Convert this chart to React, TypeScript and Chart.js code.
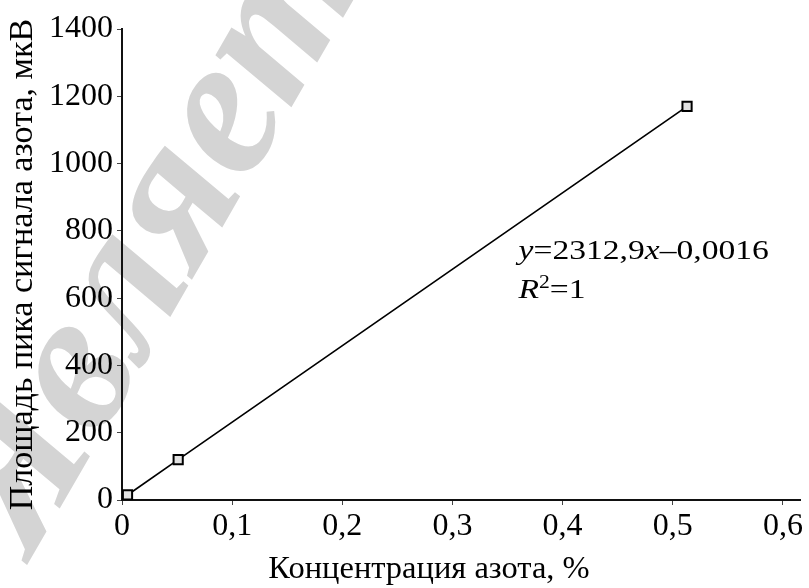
import { useEffect, useRef } from 'react';
import { Chart, registerables } from 'chart.js';

Chart.register(...registerables);

// ---- data ----
const concentration = [0.005, 0.051, 0.513];
const peakArea = [15, 120, 1170];
const xTickValues = [0, 0.1, 0.2, 0.3, 0.4, 0.5, 0.6];
const yTickValues = [0, 200, 400, 600, 800, 1000, 1200, 1400];
const xTitle = 'Концентрация азота, %';
const yTitle = 'Площадь пика сигнала азота, мкВ';
const equationLine1 = [
  { text: 'y', italic: true },
  { text: '=2312,9', italic: false },
  { text: 'x', italic: true },
  { text: '–0,0016', italic: false },
];
const equationLine2 = [
  { text: 'R', italic: true },
  { text: '2', italic: false, sup: true },
  { text: '=1', italic: false },
];
const watermarkText = 'Является';

const SERIF = '"Liberation Serif", "Times New Roman", serif';

const fmt = (v: number) => (v === 0 ? '0' : v.toFixed(1).replace('.', ','));

const equationPlugin = {
  id: 'equation',
  afterDraw(chart: any) {
    const { ctx, scales } = chart;
    const x0 = scales.x.getPixelForValue(0.36);
    const lines = [
      { segs: equationLine1, y: scales.y.getPixelForValue(715) },
      { segs: equationLine2, y: scales.y.getPixelForValue(600) },
    ];
    const sx = 1.2;
    ctx.save();
    ctx.fillStyle = '#000';
    ctx.textBaseline = 'alphabetic';
    ctx.textAlign = 'left';
    for (const line of lines) {
      ctx.save();
      ctx.translate(x0, line.y);
      ctx.scale(sx, 1);
      let cx = 0;
      for (const s of line.segs as any[]) {
        const size = s.sup ? 18 : 28;
        ctx.font = `${s.italic ? 'italic ' : ''}${size}px ${SERIF}`;
        ctx.fillText(s.text, cx, s.sup ? -10 : 0);
        cx += ctx.measureText(s.text).width;
      }
      ctx.restore();
    }
    // x axis title, centred below the axis as in the source figure
    ctx.font = `32.5px ${SERIF}`;
    ctx.textAlign = 'center';
    ctx.textBaseline = 'alphabetic';
    ctx.fillText(xTitle, 429, 578);
    ctx.restore();
  },
};

const watermarkPlugin = {
  id: 'watermark',
  beforeDraw(chart: any) {
    const { ctx } = chart;
    ctx.save();
    ctx.fillStyle = '#d4d4d4';
    ctx.translate(30, 560);
    ctx.rotate((-60 * Math.PI) / 180);
    ctx.font = `italic bold 200px ${SERIF}`;
    ctx.textBaseline = 'alphabetic';
    ctx.fillText(watermarkText, 0, 0);
    ctx.restore();
  },
};

export default function App() {
  const ref = useRef<HTMLCanvasElement>(null);
  useEffect(() => {
    if (!ref.current) return;
    const pts = concentration.map((c, i) => ({ x: c, y: peakArea[i] }));
    const chart = new Chart(ref.current, {
      type: 'scatter',
      data: {
        datasets: [
          {
            data: pts,
            showLine: true,
            borderColor: '#000',
            borderWidth: 1.7,
            pointStyle: 'rect',
            pointRadius: 6.5,
            pointBackgroundColor: '#e2e2e2',
            pointBorderColor: '#000',
            pointBorderWidth: 2,
          },
          {
            data: pts,
            showLine: false,
            pointStyle: 'crossRot',
            pointRadius: 2.4,
            pointBorderColor: '#555',
            pointBorderWidth: 1,
          },
        ],
      },
      options: {
        responsive: false,
        animation: false,
        events: [],
        layout: { padding: { top: 29, right: 7, left: 0, bottom: 0 } },
        plugins: { legend: { display: false }, tooltip: { enabled: false } },
        scales: {
          x: {
            type: 'linear',
            min: 0,
            max: 0.616,
            afterBuildTicks: (s: any) => {
              s.ticks = xTickValues.map((v) => ({ value: v }));
            },
            afterFit: (s: any) => {
              s.height = 88;
            },
            grid: { drawOnChartArea: false, drawTicks: true, tickLength: 5, tickColor: '#444', tickWidth: 1 },
            border: { display: true, color: '#111', width: 2 },
            ticks: {
              autoSkip: false,
              maxRotation: 0,
              padding: 2,
              color: '#000',
              font: { family: SERIF, size: 32 },
              callback: (v: any) => fmt(Number(v)),
            },
            title: { display: false, text: xTitle },
          },
          y: {
            type: 'linear',
            min: 0,
            max: 1400,
            afterBuildTicks: (s: any) => {
              s.ticks = yTickValues.map((v) => ({ value: v }));
            },
            afterFit: (s: any) => {
              s.width = 122;
            },
            grid: { drawOnChartArea: false, drawTicks: true, tickLength: 5, tickColor: '#444', tickWidth: 1 },
            border: { display: true, color: '#111', width: 2 },
            ticks: {
              autoSkip: false,
              padding: 4,
              color: '#000',
              font: { family: SERIF, size: 32 },
              callback: (v: any) => String(v),
            },
            title: {
              display: true,
              text: yTitle,
              color: '#000',
              font: { family: SERIF, size: 34 },
              padding: { top: 3, bottom: 0 },
            },
          },
        },
      },
      plugins: [watermarkPlugin, equationPlugin],
    } as any);
    return () => chart.destroy();
  }, []);
  return (
    <div style={{ position: 'fixed', left: 0, top: 0, width: 809, height: 588, background: '#fff' }}>
      <canvas ref={ref} width={809} height={588} style={{ display: 'block', width: 809, height: 588 }} />
    </div>
  );
}
